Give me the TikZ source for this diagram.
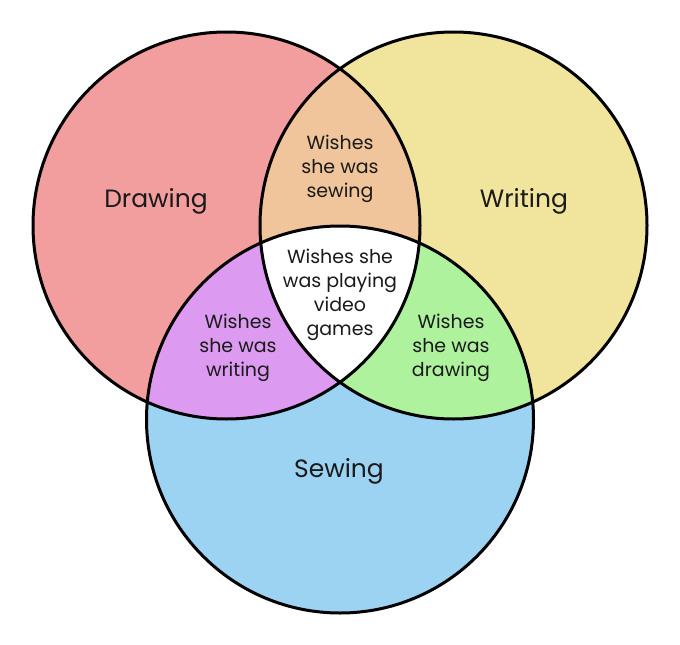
\documentclass[tikz,border=0pt]{standalone}
\usepackage{fontspec}
\setmainfont{Poppins}
\definecolor{cdraw}{HTML}{F29E9E}
\definecolor{cwrite}{HTML}{F1E59D}
\definecolor{csew}{HTML}{9DD3F2}
\definecolor{cdw}{HTML}{F0C59B}
\definecolor{cds}{HTML}{DC9BF0}
\definecolor{cws}{HTML}{AEF29E}
\definecolor{ctext}{HTML}{1A1A1A}
\tikzset{
  big/.style={font=\fontsize{25}{28}\selectfont, text=ctext, inner sep=0pt},
  small/.style={font=\fontsize{19}{24}\selectfont, text=ctext, align=center, inner sep=0pt},
  ring/.style={draw=black, line width=3pt}
}
\begin{document}
\begin{tikzpicture}[x=1pt,y=-1pt]
\useasboundingbox (0,0) rectangle (680,645);
\def\R{193.5}
\coordinate (cd) at (226.5,225.5);
\coordinate (cw) at (453.5,225.5);
\coordinate (cs) at (340,419.5);
\fill[cdraw] (cd) circle (\R);
\fill[cwrite] (cw) circle (\R);
\fill[csew] (cs) circle (\R);
\begin{scope}
  \clip (cd) circle (\R);
  \fill[cdw] (cw) circle (\R);
  \fill[cds] (cs) circle (\R);
\end{scope}
\begin{scope}
  \clip (cw) circle (\R);
  \fill[cws] (cs) circle (\R);
\end{scope}
\begin{scope}
  \clip (cd) circle (\R);
  \clip (cw) circle (\R);
  \fill[white] (cs) circle (\R);
\end{scope}
\draw[ring] (cd) circle (\R);
\draw[ring] (cw) circle (\R);
\draw[ring] (cs) circle (\R);
\node[big] (ldraw) at (156,201) {Drawing};
\node[big] (lwrite) at (524,201) {Writing};
\node[big] (lsew) at (339,471) {Sewing};
\node[small] (ldw) at (340,169) {Wishes\\she was\\sewing};
\node[small] (ldws) at (340,295) {Wishes she\\was playing\\video\\games};
\node[small] (lds) at (238,348) {Wishes\\she was\\writing};
\node[small] (lws) at (451,348) {Wishes\\she was\\drawing};
\end{tikzpicture}
\end{document}
